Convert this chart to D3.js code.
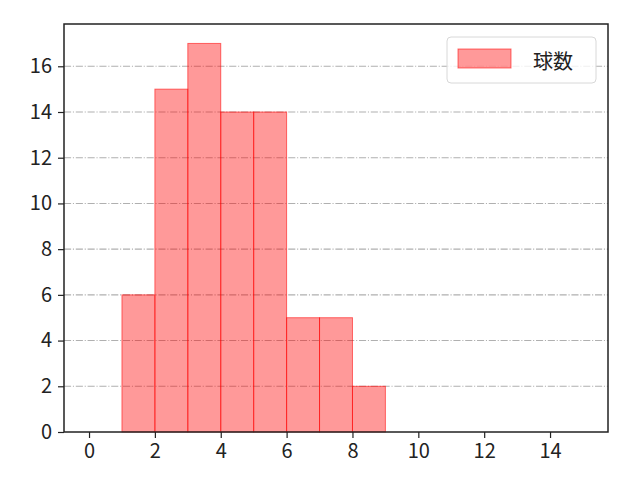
<!DOCTYPE html>
<html>
<head>
<meta charset="utf-8">
<script src="https://cdn.jsdelivr.net/npm/d3@7"></script>
<style>
  body { margin: 0; background: #fff; }
  text { font-family: "Noto Sans CJK JP", "DejaVu Sans", sans-serif; }
</style>
</head>
<body>
<div id="chart"></div>
<script>
// Histogram bins (left edge, right edge) and counts
const binStarts = [1, 2, 3, 4, 5, 6, 7, 8];
const binEnds = [2, 3, 4, 5, 6, 7, 8, 9];
const counts = [6, 15, 17, 14, 14, 5, 5, 2];
const xTicks = [0, 2, 4, 6, 8, 10, 12, 14];
const yTicks = [0, 2, 4, 6, 8, 10, 12, 14, 16];
const seriesName = "球数";

const W = 640, H = 480;
const margin = { top: 24, right: 32, bottom: 48, left: 64 },
      width = W - margin.left - margin.right,
      height = H - margin.top - margin.bottom;

const svg = d3.select("#chart")
    .append("svg")
    .attr("width", W)
    .attr("height", H);

const g = svg.append("g")
    .attr("transform", `translate(${margin.left},${margin.top})`);

const x = d3.scaleLinear().domain([-0.76, 15.76]).range([0, width]);
const y = d3.scaleLinear().domain([0, 17.85]).range([height, 0]);

// grid (dash-dot)
g.selectAll(".grid")
    .data(yTicks.filter(d => d > 0))
    .enter()
    .append("line")
    .attr("x1", 0)
    .attr("x2", width)
    .attr("y1", d => y(d))
    .attr("y2", d => y(d))
    .attr("stroke", "#b0b0b0")
    .attr("stroke-width", 1.1)
    .attr("stroke-dasharray", "7.1,1.8,1.1,1.8");

// bars
const bins = binStarts.map((s, i) => ({ x0: s, x1: binEnds[i], n: counts[i] }));
g.selectAll(".bar")
    .data(bins)
    .enter()
    .append("rect")
    .attr("x", d => x(d.x0))
    .attr("y", d => y(d.n))
    .attr("width", d => x(d.x1) - x(d.x0))
    .attr("height", d => y(0) - y(d.n))
    .attr("fill", "#ff0000")
    .attr("fill-opacity", 0.4)
    .attr("stroke", "#ff0000")
    .attr("stroke-opacity", 0.55)
    .attr("stroke-width", 1);

// axes
const xAxis = g.append("g")
    .attr("transform", `translate(0,${height})`)
    .call(d3.axisBottom(x).tickValues(xTicks).tickSize(6).tickPadding(6));
const yAxis = g.append("g")
    .call(d3.axisLeft(y).tickValues(yTicks).tickSize(6).tickPadding(6));

[xAxis, yAxis].forEach(a => {
    a.select(".domain").remove();
    a.selectAll(".tick line").attr("stroke", "#222").attr("stroke-width", 1.2);
    a.selectAll(".tick text").attr("fill", "#222").style("font-size", "20px");
});

// frame
g.append("rect")
    .attr("x", 0)
    .attr("y", 0)
    .attr("width", width)
    .attr("height", height)
    .attr("fill", "none")
    .attr("stroke", "#222")
    .attr("stroke-width", 1.5);

// legend
const legend = g.append("g")
    .attr("transform", `translate(${width - 161},13)`);

legend.append("rect")
    .attr("width", 149)
    .attr("height", 46)
    .attr("rx", 4)
    .attr("fill", "#fff")
    .attr("fill-opacity", 0.8)
    .attr("stroke", "#d8d8d8");

legend.append("rect")
    .attr("x", 11)
    .attr("y", 12)
    .attr("width", 53)
    .attr("height", 19)
    .attr("fill", "#ff0000")
    .attr("fill-opacity", 0.4)
    .attr("stroke", "#ff0000")
    .attr("stroke-opacity", 0.55);

legend.append("text")
    .attr("x", 86)
    .attr("y", 23)
    .attr("dominant-baseline", "central")
    .style("font-size", "20px")
    .attr("fill", "#222")
    .text(seriesName);
</script>
</body>
</html>
